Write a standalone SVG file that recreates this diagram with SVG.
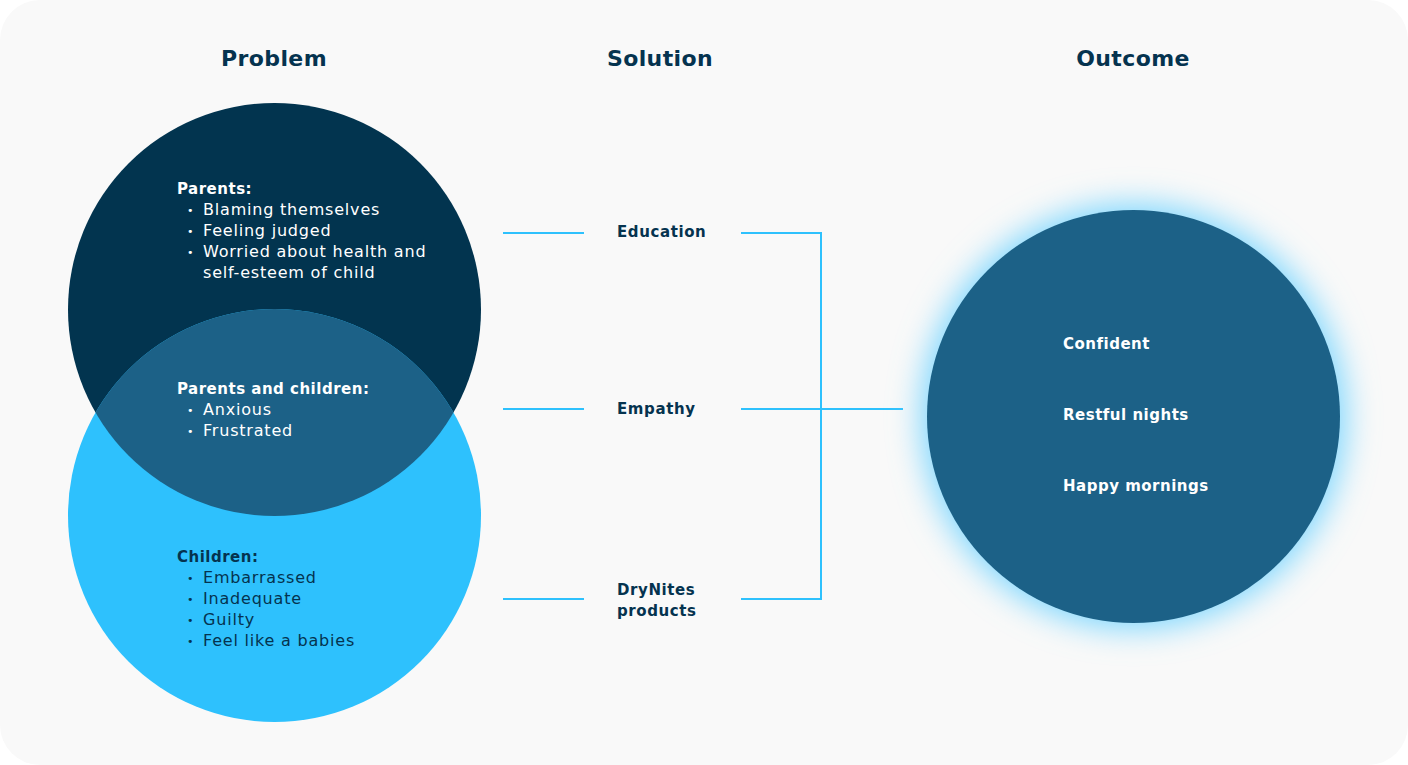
<svg xmlns="http://www.w3.org/2000/svg" width="1408" height="765" viewBox="0 0 1408 765">
  <style>
    .hdr { font-family: "DejaVu Sans", "Noto Sans", sans-serif; font-size: 22px; font-weight: bold; fill: #05334f; text-anchor: middle; letter-spacing: 0.4px; }
    .b { font-family: "DejaVu Sans", "Noto Sans", sans-serif; font-size: 15px; font-weight: bold; letter-spacing: 0.5px; }
    .t { font-family: "DejaVu Sans", "Noto Sans", sans-serif; font-size: 16px; letter-spacing: 0.8px; }
    .bu { font-family: "DejaVu Sans", "Noto Sans", sans-serif; font-size: 11px; }
    .w { fill: #ffffff; }
    .d { fill: #05334f; }
    .lbl { font-family: "DejaVu Sans", "Noto Sans", sans-serif; font-size: 15px; font-weight: bold; fill: #05334f; letter-spacing: 0.6px; }
    .conn { stroke: #2ec1fd; stroke-width: 2; fill: none; }
  </style>
  <defs>
    <clipPath id="darkClip"><circle cx="274.5" cy="309.5" r="206.5"/></clipPath>
    <filter id="glow" x="-40%" y="-40%" width="180%" height="180%">
      <feGaussianBlur stdDeviation="16"/>
    </filter>
  </defs>
  <rect x="0" y="0" width="1408" height="765" fill="#ffffff"/>
  <rect x="0" y="0" width="1408" height="765" rx="40" ry="40" fill="#f9f9f9"/>

  <text class="hdr" x="274" y="66">Problem</text>
  <text class="hdr" x="660" y="66">Solution</text>
  <text class="hdr" x="1133" y="66">Outcome</text>

  <g id="problem">
    <circle cx="274.5" cy="309.5" r="206.5" fill="#02344f"/>
    <circle cx="274.5" cy="515.5" r="206.5" fill="#2ec1fd"/>
    <circle cx="274.5" cy="515.5" r="206.5" fill="#1c6187" clip-path="url(#darkClip)"/>
  </g>

  <g id="parents">
    <text class="b w" x="177" y="194">Parents:</text>
    <text class="bu w" x="187" y="214">•</text><text class="t w" x="203" y="215">Blaming themselves</text>
    <text class="bu w" x="187" y="235">•</text><text class="t w" x="203" y="236">Feeling judged</text>
    <text class="bu w" x="187" y="256">•</text><text class="t w" x="203" y="257">Worried about health and</text>
    <text class="t w" x="203" y="278">self-esteem of child</text>
  </g>

  <g id="parents-children">
    <text class="b w" x="177" y="394">Parents and children:</text>
    <text class="bu w" x="187" y="414">•</text><text class="t w" x="203" y="415">Anxious</text>
    <text class="bu w" x="187" y="435">•</text><text class="t w" x="203" y="436">Frustrated</text>
  </g>

  <g id="children">
    <text class="b d" x="177" y="562">Children:</text>
    <text class="bu d" x="187" y="582">•</text><text class="t d" x="203" y="583">Embarrassed</text>
    <text class="bu d" x="187" y="603">•</text><text class="t d" x="203" y="604">Inadequate</text>
    <text class="bu d" x="187" y="624">•</text><text class="t d" x="203" y="625">Guilty</text>
    <text class="bu d" x="187" y="645">•</text><text class="t d" x="203" y="646">Feel like a babies</text>
  </g>

  <g id="connectors">
    <line class="conn" x1="503" y1="233" x2="584" y2="233"/>
    <line class="conn" x1="503" y1="409" x2="584" y2="409"/>
    <line class="conn" x1="503" y1="599" x2="584" y2="599"/>
    <polyline class="conn" points="741,233 821,233 821,599 741,599"/>
    <line class="conn" x1="741" y1="409" x2="903" y2="409"/>
  </g>

  <g id="education"><text class="lbl" x="617" y="237">Education</text></g>
  <g id="empathy"><text class="lbl" x="617" y="414">Empathy</text></g>
  <g id="drynites"><text class="lbl" x="617" y="595">DryNites</text><text class="lbl" x="617" y="616">products</text></g>

  <g id="outcome">
    <circle cx="1133.5" cy="416.5" r="212" fill="#7ad6fe" filter="url(#glow)"/>
    <circle cx="1133.5" cy="416.5" r="206.5" fill="#1c6187"/>
    <text class="b w" x="1063" y="349">Confident</text>
    <text class="b w" x="1063" y="420">Restful nights</text>
    <text class="b w" x="1063" y="491">Happy mornings</text>
  </g>
</svg>
